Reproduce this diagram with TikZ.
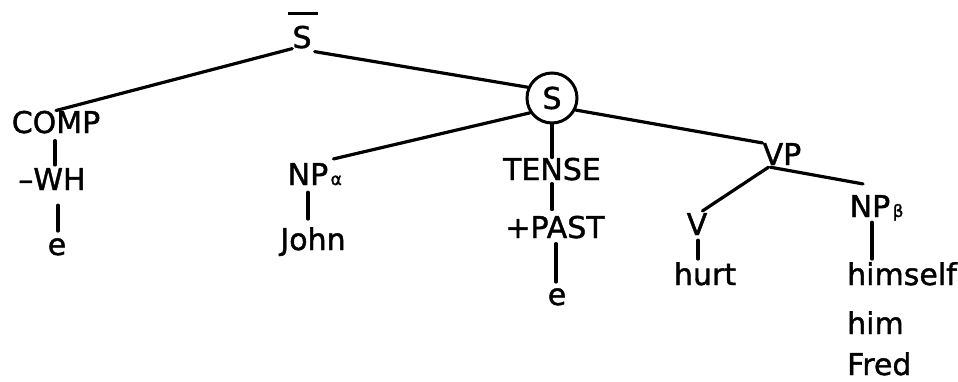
\documentclass[tikz,border=0pt]{standalone}
\usepackage{fontspec}
\setmainfont[FakeBold=1.3]{DejaVu Sans}
\usetikzlibrary{calc}
\begin{document}
\begin{tikzpicture}[x=1pt,y=-1pt,
  lbl/.style={inner sep=0pt, anchor=base, font=\fontsize{30}{36}\selectfont},
  lblw/.style={inner sep=0pt, anchor=base west, font=\fontsize{30}{36}\selectfont},
  subscr/.style={inner sep=0pt, anchor=base west, font=\fontsize{17}{20}\selectfont},
  branch/.style={line width=3.2pt, line cap=round},
  ringnode/.style={circle, draw, line width=3pt, minimum size=50pt, inner sep=0pt, font=\fontsize{30}{36}\selectfont}]
\useasboundingbox (0,0) rectangle (958,381);

% S-bar and the complementizer
\node[lbl] (sbar) at (302,48) {S};
\draw[line width=3.5pt] ($(sbar.north)+(-14,-12)$) coordinate (barl) -- ($(sbar.north)+(16,-12)$) coordinate (barr);
\node[lbl] (comp) at (56,133) {COMP};
\node[lbl] (wh) at (52,190) {–WH};
\node[lbl] (e1) at (57,255) {e};

% S and its daughters
\node[ringnode] (s) at (552,98) {S};
\node[lbl] (npa) at (308,185) {NP};
\node[subscr] (alpha) at ($(npa.base east)+(2,0)$) {α};
\node[lbl] (john) at (313,250) {John};
\node[lbl] (tense) at (552,180) {TENSE};
\node[lbl] (past) at (555,238) {+PAST};
\node[lbl] (e2) at (557,305) {e};

% VP
\node[lbl] (vp) at (782,165) {VP};
\node[lbl] (v) at (697,235) {V};
\node[lbl] (hurt) at (705,285) {hurt};
\node[lbl] (npb) at (870,217) {NP};
\node[subscr] (beta) at ($(npb.base east)+(2,0)$) {β};
\node[lblw] (himself) at (847,285) {himself};
\node[lblw] (him) at (847,334) {him};
\node[lblw] (fred) at (847,375) {Fred};

% branches
\draw[branch] (sbar.south west) -- (comp.north);
\draw[branch] ($(sbar.south east)+(3,3)$) -- (s.156);
\draw[branch] (s.214) -- ($(npa.north east)+(5,-4)$);
\draw[branch] (s.south) -- (tense.north);
\draw[branch] (s.-27) -- (vp.north west);
\draw[branch] ($(vp.south west)+(6,2)$) -- ($(v.north east)+(-5,-2)$);
\draw[branch] ($(vp.south west)+(8,2)$) -- ($(npb.north)+(-7,-11)$);

% unary links
\draw[branch] ($(comp.south)+(-1,7)$) -- ($(wh.north)+(3,-3)$);
\draw[branch] ($(wh.south)+(6,15)$) -- ($(e1.north)+(1,-7)$);
\draw[branch] ($(npa.south)+(0,7)$) -- ($(john.north)+(-5,-8)$);
\draw[branch] ($(tense.south)+(0,3)$) -- ($(past.north)+(-3,-6)$);
\draw[branch] ($(past.south)+(1,5)$) -- ($(e2.north)+(-1,-6)$);
\draw[branch] ($(v.south)+(1,5)$) -- ($(hurt.north)+(-7,-3)$);
\draw[branch] ($(npb.south)+(2,5)$) -- ($(himself.north west)+(25,-3)$);
\end{tikzpicture}
\end{document}
